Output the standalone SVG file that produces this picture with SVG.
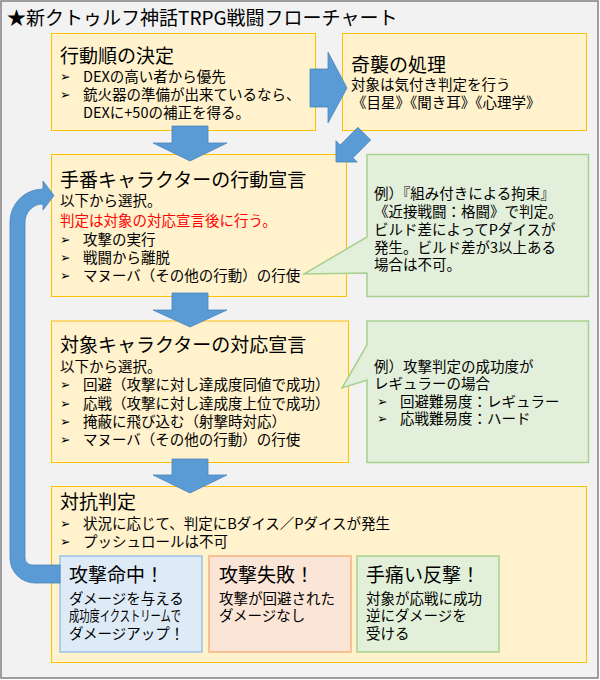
<svg xmlns="http://www.w3.org/2000/svg" width="600" height="680" viewBox="0 0 600 680">
<style>
.box{fill:#fff2cc;stroke:#ffc000;stroke-width:1}
.note{fill:#e2efda;stroke:#a9d18e;stroke-width:1.5}
.arrow{fill:#5b9bd5;stroke:#4a84bd;stroke-width:0.8}
text{font-family:"Noto Sans CJK JP","Noto Sans",sans-serif;fill:#000}
.h{font-size:19px}
.t{font-size:14.5px}
.b{font-family:"DejaVu Sans",sans-serif;font-size:12.5px}
.red{fill:#ff0000}
</style>
<rect x="1" y="1" width="597" height="677" fill="#f2f2f2" stroke="#808080" stroke-width="1.5"/>
<text class="h" x="7" y="25">★新クトゥルフ神話TRPG戦闘フローチャート</text>

<g id="order">
<rect class="box" x="51.5" y="33.5" width="264" height="97"/>
<text class="h" x="60" y="63">行動順の決定</text>
<text class="b" x="60" y="81">➢</text><text class="t" x="83" y="82">DEXの高い者から優先</text>
<text class="b" x="60" y="99">➢</text><text class="t" x="83" y="100">銃火器の準備が出来ているなら、</text>
<text class="t" x="83" y="118">DEXに+50の補正を得る。</text>
</g>

<g id="surprise">
<rect class="box" x="342.5" y="33.5" width="244" height="97"/>
<text class="h" x="351" y="72">奇襲の処理</text>
<text class="t" x="351" y="90">対象は気付き判定を行う</text>
<text class="t" x="352" y="108">《目星》《聞き耳》《心理学》</text>
</g>

<g id="action">
<rect class="box" x="51.5" y="154.5" width="295" height="142"/>
<text class="h" x="60" y="187">手番キャラクターの行動宣言</text>
<text class="t" x="60" y="206">以下から選択。</text>
<text class="t red" x="60" y="226">判定は対象の対応宣言後に行う。</text>
<text class="b" x="60" y="244">➢</text><text class="t" x="83" y="245">攻撃の実行</text>
<text class="b" x="60" y="262">➢</text><text class="t" x="83" y="263">戦闘から離脱</text>
<text class="b" x="60" y="280">➢</text><text class="t" x="83" y="281">マヌーバ（その他の行動）の行使</text>
</g>

<g id="note1">
<path class="note" d="M367,154.5 H588.5 V296.5 H367 V273 L304,274 L367,237 Z"/>
<text class="t" x="374" y="199">例）『組み付きによる拘束』</text>
<text class="t" x="374" y="217">《近接戦闘：格闘》で判定。</text>
<text class="t" x="374" y="235">ビルド差によってPダイスが</text>
<text class="t" x="374" y="252.5">発生。ビルド差が3以上ある</text>
<text class="t" x="374" y="270">場合は不可。</text>
</g>

<g id="response">
<rect class="box" x="51.5" y="321" width="297" height="141.5"/>
<text class="h" x="60" y="352">対象キャラクターの対応宣言</text>
<text class="t" x="60" y="372">以下から選択。</text>
<text class="b" x="60" y="389">➢</text><text class="t" x="83" y="390">回避（攻撃に対し達成度同値で成功）</text>
<text class="b" x="60" y="408">➢</text><text class="t" x="83" y="409">応戦（攻撃に対し達成度上位で成功）</text>
<text class="b" x="60" y="426">➢</text><text class="t" x="83" y="427">掩蔽に飛び込む（射撃時対応）</text>
<text class="b" x="60" y="444">➢</text><text class="t" x="83" y="445">マヌーバ（その他の行動）の行使</text>
</g>

<g id="note2">
<path class="note" d="M367,321 H588.5 V462.5 H367 V380 L342,388 L367,345 Z"/>
<text class="t" x="374" y="372">例）攻撃判定の成功度が</text>
<text class="t" x="374" y="389">レギュラーの場合</text>
<text class="b" x="377" y="405.5">➢</text><text class="t" x="400" y="406.5">回避難易度：レギュラー</text>
<text class="b" x="377" y="423">➢</text><text class="t" x="400" y="424">応戦難易度：ハード</text>
</g>

<g id="opposed">
<rect class="box" x="51.5" y="486.5" width="535" height="176"/>
<text class="h" x="60" y="509">対抗判定</text>
<text class="b" x="60" y="527.5">➢</text><text class="t" x="83" y="528.5">状況に応じて、判定にBダイス／Pダイスが発生</text>
<text class="b" x="60" y="546">➢</text><text class="t" x="83" y="547">プッシュロールは不可</text>
</g>

<g id="hit">
<rect x="60" y="556" width="142" height="96" fill="#deebf7" stroke="#9dc3e6" stroke-width="1.5"/>
<text class="h" x="69" y="582">攻撃命中！</text>
<text class="t" x="69" y="603.5">ダメージを与える</text>
<text class="t" x="69" y="621" textLength="112" lengthAdjust="spacingAndGlyphs">成功度イクストリームで</text>
<text class="t" x="69" y="639">ダメージアップ！</text>
</g>

<g id="miss">
<rect x="209" y="556" width="142" height="96" fill="#fbe5d6" stroke="#f4b183" stroke-width="1.5"/>
<text class="h" x="219" y="582">攻撃失敗！</text>
<text class="t" x="219" y="603.5">攻撃が回避された</text>
<text class="t" x="219" y="621">ダメージなし</text>
</g>

<g id="counter">
<rect x="357" y="556" width="142" height="96" fill="#e2f0d9" stroke="#a9d18e" stroke-width="1.5"/>
<text class="h" x="366" y="582">手痛い反撃！</text>
<text class="t" x="366" y="603.5">対象が応戦に成功</text>
<text class="t" x="366" y="621">逆にダメージを</text>
<text class="t" x="366" y="639">受ける</text>
</g>

<g id="connectors">
<polygon class="arrow" points="310,69 328,69 328,52 347,88 328,123 328,107 310,107"/>
<polygon class="arrow" points="172,126 208,126 208,143 227,143 190,161 153,143 172,143"/>
<polygon class="arrow" points="172,293 208,293 208,310 227,310 190,327 153,310 172,310"/>
<polygon class="arrow" points="172,459 208,459 208,475 227,475 190,493 153,475 172,475"/>
<polygon class="arrow" transform="translate(336,162) rotate(135) translate(-40,0)" points="0,-9 25,-9 25,-15 40,0 25,15 25,9 0,9"/>
<path class="arrow" d="M60,583 H35 A25,25 0 0 1 10,558 V222 A33,33 0 0 1 43,189 V181 L54,195.5 L43,210 V204 A18,18 0 0 0 25,222 V558 A7,7 0 0 0 32,565 H60 Z"/>
</g>
</svg>
